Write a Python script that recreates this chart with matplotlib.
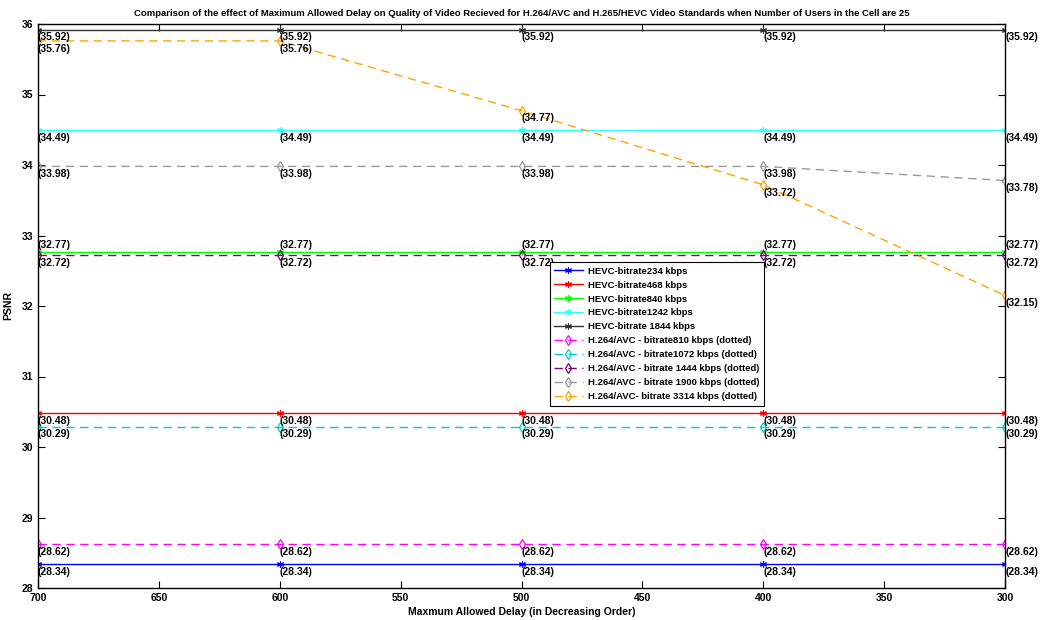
import matplotlib
matplotlib.use('agg')
from matplotlib import pyplot as plt

# maximum allowed delay, plotted in decreasing order
DELAY = [700, 600, 500, 400, 300]

HEVC_234 = [28.34, 28.34, 28.34, 28.34, 28.34]
HEVC_468 = [30.48, 30.48, 30.48, 30.48, 30.48]
HEVC_840 = [32.77, 32.77, 32.77, 32.77, 32.77]
HEVC_1242 = [34.49, 34.49, 34.49, 34.49, 34.49]
HEVC_1844 = [35.92, 35.92, 35.92, 35.92, 35.92]

AVC_810 = [28.62, 28.62, 28.62, 28.62, 28.62]
AVC_1072 = [30.29, 30.29, 30.29, 30.29, 30.29]
AVC_1444 = [32.72, 32.72, 32.72, 32.72, 32.72]
AVC_1900 = [33.98, 33.98, 33.98, 33.98, 33.78]
AVC_3314 = [35.76, 35.76, 34.77, 33.72, 32.15]

HEVC_SERIES = [
    ("HEVC-bitrate234 kbps", HEVC_234, "#0000ff"),
    ("HEVC-bitrate468 kbps", HEVC_468, "#ff0000"),
    ("HEVC-bitrate840 kbps", HEVC_840, "#00ff00"),
    ("HEVC-bitrate1242 kbps", HEVC_1242, "#33ffff"),
    ("HEVC-bitrate 1844 kbps", HEVC_1844, "#333333"),
]
AVC_SERIES = [
    ("H.264/AVC - bitrate810 kbps (dotted)", AVC_810, "#ff00ff"),
    ("H.264/AVC - bitrate1072 kbps (dotted)", AVC_1072, "#00cccc"),
    ("H.264/AVC - bitrate 1444 kbps (dotted)", AVC_1444, "#800080"),
    ("H.264/AVC - bitrate 1900 kbps (dotted)", AVC_1900, "#999999"),
    ("H.264/AVC- bitrate 3314 kbps (dotted)", AVC_3314, "#ffa500"),
]

# this one sits just above the 1444 kbps line, so its labels go on top
LABEL_ABOVE = {"HEVC-bitrate840 kbps"}

plt.rcParams['font.family'] = ['Liberation Sans', 'DejaVu Sans']
plt.rcParams['font.weight'] = 'bold'
plt.rcParams['axes.titleweight'] = 'bold'
plt.rcParams['axes.labelweight'] = 'bold'
plt.rcParams['font.size'] = 7.5

fig = plt.figure(figsize=(10.42, 6.2), dpi=100)
ax = fig.add_axes([38 / 1042, 32 / 620, 967 / 1042, 564 / 620])

ASTERISK = (6, 2, 0)
for name, vals, col in HEVC_SERIES:
    ax.plot(DELAY, vals, color=col, lw=1, marker=ASTERISK, ms=5, mew=0.8,
            label=name)
for name, vals, col in AVC_SERIES:
    ax.plot(DELAY, vals, color=col, lw=1, ls=(0, (6, 4)), marker='d', ms=5,
            mfc='none', mew=0.9, label=name)

# value labels next to every point
for name, vals, _ in HEVC_SERIES + AVC_SERIES:
    above = name in LABEL_ABOVE
    for x, y in zip(DELAY, vals):
        ax.annotate("(%.2f)" % y, (x, y), xytext=(0, 1 if above else -2),
                    textcoords='offset points', ha='left',
                    va='bottom' if above else 'top',
                    fontsize=7.5, fontweight='bold')

ax.set_xlim(700, 300)
ax.set_ylim(28, 36)
ax.set_xticks([700, 650, 600, 550, 500, 450, 400, 350, 300])
ax.set_yticks(range(28, 37))
ax.tick_params(direction='in', top=True, right=True, length=5, width=0.8)
for sp in ax.spines.values():
    sp.set_linewidth(1.0)

ax.set_xlabel("Maxmum Allowed Delay (in Decreasing Order)", labelpad=3)
ax.set_ylabel("PSNR", labelpad=6)
ax.set_title("Comparison of the effect of Maximum Allowed Delay on Quality of Video "
             "Recieved for H.264/AVC and H.265/HEVC Video Standards when Number of "
             "Users in the Cell are 25", fontsize=6.8, pad=6)

leg = ax.legend(loc='upper left', bbox_to_anchor=(0.529, 0.578), fancybox=False,
                edgecolor='black', framealpha=1, fontsize=6.8, handlelength=3.0,
                handletextpad=0.6, borderpad=0.5, labelspacing=0.52,
                borderaxespad=0)
leg.get_frame().set_linewidth(0.8)

fig.savefig('out.png', dpi=100)
